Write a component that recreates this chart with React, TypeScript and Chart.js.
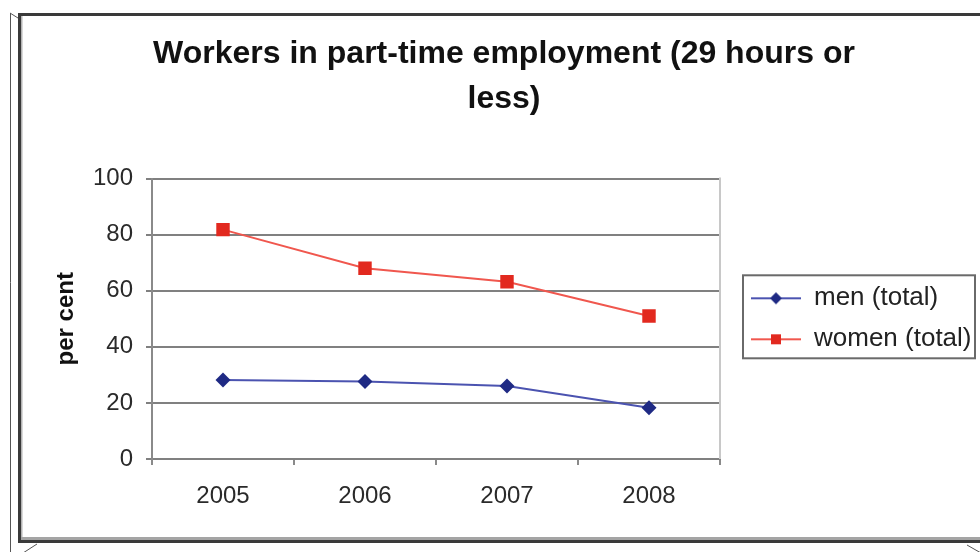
import { useEffect, useRef } from 'react';
import { Chart, registerables } from 'chart.js';

Chart.register(...registerables);

// Chart content
const titleLines = ['Workers in part-time employment (29 hours or', 'less)'];
const years = ['2005', '2006', '2007', '2008'];
const seriesLabels = ['men (total)', 'women (total)'];
const menTotal = [28.2, 27.6, 26.0, 18.3];
const womenTotal = [81.8, 68.0, 63.2, 51.0];
const yAxisLabel = 'per cent';
const yMin = 0;
const yMax = 100;
const yStep = 20;

const FONT = '"Liberation Sans", Arial, Helvetica, sans-serif';
const MEN_LINE = '#4b53b0';
const MEN_MARK = '#1f2a84';
const WOMEN_LINE = '#f0574e';
const WOMEN_MARK = '#e2291f';

// Excel-style legend swatch: a short line with the series marker in the middle.
function makeSwatch(kind: 'diamond' | 'square', line: string, fill: string) {
  const c = document.createElement('canvas');
  c.width = 66;
  c.height = 16;
  const g = c.getContext('2d')!;
  g.strokeStyle = line;
  g.lineWidth = 2;
  g.beginPath();
  g.moveTo(16, 8);
  g.lineTo(66, 8);
  g.stroke();
  g.fillStyle = fill;
  const cx = 41;
  const cy = 8;
  if (kind === 'diamond') {
    g.beginPath();
    g.moveTo(cx - 6, cy);
    g.lineTo(cx, cy - 6);
    g.lineTo(cx + 6, cy);
    g.lineTo(cx, cy + 6);
    g.closePath();
    g.fill();
  } else {
    g.fillRect(cx - 5, cy - 5, 10, 10);
  }
  return c;
}

// Window frame, plot border and legend box.
const framePlugin = {
  id: 'frame',
  beforeDraw(chart: any) {
    const { ctx, width, height } = chart;
    ctx.save();
    ctx.fillStyle = '#ffffff';
    ctx.fillRect(0, 0, width, height);

    ctx.strokeStyle = '#555555';
    ctx.lineWidth = 1;
    ctx.beginPath();
    ctx.moveTo(10.5, 13);
    ctx.lineTo(10.5, height);
    ctx.moveTo(10, 13);
    ctx.lineTo(18, 18);
    ctx.moveTo(23, 553);
    ctx.lineTo(37, 544);
    ctx.moveTo(967, 545);
    ctx.lineTo(981, 553);
    ctx.stroke();

    ctx.fillStyle = '#a4a4a4';
    ctx.fillRect(21, 537, width - 21, 3);
    ctx.fillStyle = '#3a3a3a';
    ctx.fillRect(18, 540, width - 18, 3);
    ctx.fillRect(18, 13, width - 18, 3);
    ctx.fillRect(18, 13, 3, 530);
    ctx.fillStyle = '#b4b4b4';
    ctx.fillRect(21, 16, 1.5, 521);
    ctx.restore();
  },
  beforeDatasetsDraw(chart: any) {
    const { ctx, chartArea } = chart;
    ctx.save();
    ctx.strokeStyle = '#c8c8c8';
    ctx.lineWidth = 2;
    ctx.beginPath();
    ctx.moveTo(chartArea.right, chartArea.top - 1);
    ctx.lineTo(chartArea.right, chartArea.bottom);
    ctx.stroke();
    ctx.restore();
  },
  afterDraw(chart: any) {
    const lg = chart.legend;
    if (!lg || !lg.legendHitBoxes || !lg.legendHitBoxes.length) return;
    const hb = lg.legendHitBoxes;
    const last = hb[hb.length - 1];
    const top = hb[0].top - 10;
    const bottom = last.top + last.height + 6;
    const left = lg.left + 23;
    const right = lg.left + 255;
    const { ctx } = chart;
    ctx.save();
    ctx.strokeStyle = '#6a6a6a';
    ctx.lineWidth = 2;
    ctx.strokeRect(left, top, right - left, bottom - top);
    ctx.restore();
  },
};

export default function App() {
  const canvasRef = useRef<HTMLCanvasElement | null>(null);

  useEffect(() => {
    const canvas = canvasRef.current;
    if (!canvas) return;
    const swatches = [
      makeSwatch('diamond', MEN_LINE, MEN_MARK),
      makeSwatch('square', WOMEN_LINE, WOMEN_MARK),
    ];

    const chart = new Chart(canvas, {
      type: 'line',
      data: {
        labels: years,
        datasets: [
          {
            label: seriesLabels[0],
            data: menTotal,
            borderColor: MEN_LINE,
            backgroundColor: MEN_MARK,
            borderWidth: 2,
            pointStyle: 'rectRot',
            pointRadius: 7.5,
            pointBackgroundColor: MEN_MARK,
            pointBorderColor: MEN_MARK,
            pointBorderWidth: 0,
            tension: 0,
          },
          {
            label: seriesLabels[1],
            data: womenTotal,
            borderColor: WOMEN_LINE,
            backgroundColor: WOMEN_MARK,
            borderWidth: 2,
            pointStyle: 'rect',
            pointRadius: 9.5,
            pointBackgroundColor: WOMEN_MARK,
            pointBorderColor: WOMEN_MARK,
            pointBorderWidth: 0,
            tension: 0,
          },
        ],
      },
      options: {
        responsive: false,
        animation: false,
        devicePixelRatio: 1,
        layout: { padding: { left: 28, right: 0, top: 0, bottom: 0 } },
        plugins: {
          tooltip: { enabled: false },
          title: {
            display: true,
            text: titleLines,
            color: '#111111',
            font: { family: FONT, size: 32, weight: 'bold', lineHeight: 1.4 },
            padding: { top: 32, bottom: 57 },
          },
          legend: {
            display: true,
            position: 'right',
            align: 'center',
            fullSize: false,
            maxWidth: 260,
            labels: {
              color: '#222222',
              font: { family: FONT, size: 26 },
              usePointStyle: true,
              pointStyleWidth: 66,
              padding: 15,
              generateLabels: (c: any) => {
                const items = Chart.defaults.plugins.legend.labels.generateLabels(c);
                return items.map((it: any, i: number) => ({ ...it, pointStyle: swatches[i] }));
              },
            },
          },
        },
        scales: {
          x: {
            type: 'category',
            offset: true,
            afterFit: (s: any) => {
              s.height = 93;
            },
            grid: {
              offset: true,
              drawOnChartArea: false,
              drawTicks: true,
              tickLength: 6,
              color: '#8a8a8a',
              lineWidth: 2,
            },
            border: { display: true, color: '#808080', width: 2 },
            ticks: {
              color: '#2a2a2a',
              font: { family: FONT, size: 24 },
              padding: 17,
              maxRotation: 0,
            },
          },
          y: {
            min: yMin,
            max: yMax,
            afterFit: (s: any) => {
              s.width = 124;
            },
            ticks: {
              stepSize: yStep,
              color: '#2a2a2a',
              font: { family: FONT, size: 24 },
              padding: 13,
            },
            grid: {
              color: '#808080',
              lineWidth: 2,
              drawTicks: true,
              tickLength: 6,
            },
            border: { display: true, color: '#8a8a8a', width: 2 },
            title: {
              display: true,
              text: yAxisLabel,
              color: '#111111',
              font: { family: FONT, size: 24, weight: 'bold' },
              padding: { top: 23.5, bottom: 0 },
            },
          },
        },
      },
      plugins: [framePlugin],
    });

    return () => chart.destroy();
  }, []);

  return (
    <div style={{ position: 'absolute', left: 0, top: 0, width: 980, height: 552 }}>
      <canvas ref={canvasRef} width={980} height={552} />
    </div>
  );
}
